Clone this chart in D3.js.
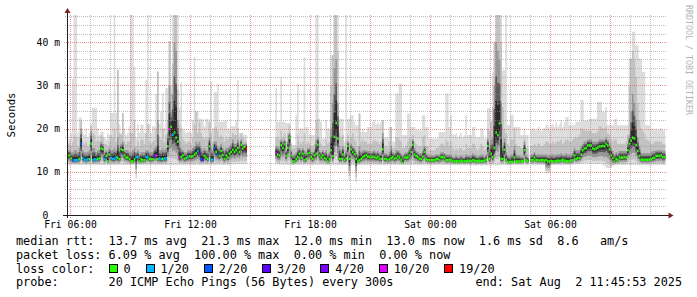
<!DOCTYPE html>
<html>
<head>
<meta charset="utf-8">
<script src="https://cdn.jsdelivr.net/npm/d3@7"></script>
<style>
body { margin: 0; background: #fff; }
svg text { font-family: "DejaVu Sans Mono", monospace; white-space: pre; }
</style>
</head>
<body>
<div id="chart"></div>
<script>
//Time base: 5 minute samples, first one at Fri 05:51
var startTime = new Date(2025, 7, 1, 5, 51, 0);
var stepMinutes = 5;
var spanHours = 30;

//Median rtt per sample (ms), null = no data
var median = [
13.8,13.8,13.1,12.7,12.7,12.7,12.7,13.0,16.5,13.2,12.8,12.7,12.9,12.9,16.5,12.7,12.9,12.8,13.0,13.1,
15.4,15.2,13.0,13.7,12.4,14.0,13.2,13.0,13.0,13.4,13.2,12.9,15.2,15.0,13.8,13.3,13.3,12.9,12.4,12.4,
12.9,13.4,13.4,12.4,12.9,12.7,12.7,13.4,13.4,13.0,12.9,12.9,13.7,13.8,12.9,13.1,12.9,13.0,13.1,13.1,
15.9,19.9,20.4,18.6,19.1,17.9,17.0,13.2,13.4,13.8,13.0,13.2,13.4,13.6,13.5,13.6,14.0,14.3,14.8,14.3,
12.9,12.8,13.7,13.3,13.0,15.9,12.8,12.8,15.5,14.6,14.1,13.7,14.8,13.9,13.0,13.8,13.3,14.2,14.6,15.1,
14.6,15.0,15.5,14.6,16.3,15.4,15.8,15.4,null,null,null,null,null,null,null,null,null,null,null,null,
null,null,null,null,null,14.4,14.0,13.8,16.2,15.5,16.4,13.7,15.5,17.9,13.8,12.4,12.4,13.0,13.4,14.2,
13.3,14.2,12.7,13.0,14.2,14.4,13.4,13.0,13.8,14.2,16.3,13.8,13.3,13.8,13.2,13.0,12.4,13.0,15.0,13.6,
18.1,21.3,17.7,13.0,13.0,14.0,12.7,13.1,16.0,13.0,15.2,14.6,14.1,13.0,12.4,12.7,13.0,13.4,13.6,13.9,
13.5,13.5,13.3,13.5,13.4,13.2,13.5,13.0,13.0,15.2,13.0,13.0,12.7,12.9,13.2,13.4,13.0,13.2,13.7,13.3,
12.8,12.1,13.3,13.3,13.3,13.8,14.6,16.3,14.0,13.7,13.4,13.0,13.0,13.5,14.6,13.0,12.7,12.7,12.7,12.7,
12.7,12.9,13.0,12.7,13.4,13.4,13.3,12.7,12.7,12.8,12.7,12.4,12.4,12.5,12.4,12.4,12.6,12.4,12.4,12.5,
12.6,12.5,12.5,12.7,12.6,12.5,12.5,12.6,12.5,12.5,12.6,12.8,16.0,13.0,14.2,13.4,15.5,19.1,18.5,21.2,
13.0,13.0,15.1,12.8,12.3,12.3,12.3,12.3,13.3,12.4,12.4,12.4,12.4,12.5,15.0,12.7,12.4,null,12.7,12.7,
13.3,12.7,12.7,12.6,12.7,12.7,12.6,12.7,12.4,12.4,12.5,12.4,12.4,12.5,12.6,12.5,12.6,12.8,12.6,12.5,
12.4,12.5,12.6,12.7,13.8,13.0,13.2,13.2,14.0,15.0,15.4,15.5,16.1,16.1,16.1,15.4,15.2,15.4,15.6,15.9,
15.9,16.0,15.9,16.5,16.1,15.2,13.8,13.2,12.4,13.0,12.7,13.3,13.3,13.3,13.4,13.3,15.0,16.5,17.2,17.9,
17.7,16.2,14.8,13.7,12.8,12.8,12.8,12.8,12.8,12.8,12.9,13.2,13.2,13.7,13.7,13.7,13.8,13.4,13.4,null
];

//Slowest ping per sample (top of the light smoke)
var pingMax = [
18.5,17.5,19.0,31.5,46.3,46.3,19.0,22.5,22.5,19.5,18.5,20.0,18.0,19.0,21.0,24.8,24.8,24.8,20.0,18.5,
19.3,19.3,18.0,17.5,19.0,18.5,23.6,23.6,46.3,23.6,33.6,21.0,19.0,23.6,20.0,18.5,19.0,20.5,46.3,46.3,
34.4,18.0,21.0,19.0,20.9,20.9,19.0,31.3,46.3,21.0,19.0,20.5,20.5,28.0,33.2,21.0,24.0,28.2,20.0,29.4,
29.4,40.2,30.0,46.3,46.3,46.3,46.3,24.8,30.6,20.0,19.5,19.0,19.2,19.5,19.0,22.0,36.6,23.9,23.9,22.3,
22.3,22.3,20.5,22.3,22.3,21.6,30.8,20.0,28.5,28.5,30.4,21.6,21.6,21.6,21.9,21.9,20.0,20.0,20.5,20.5,
20.5,22.0,31.2,18.9,18.9,18.9,18.6,18.6,null,null,null,null,null,null,null,null,null,null,null,null,
null,null,null,null,null,29.4,21.6,21.6,32.0,21.6,21.6,21.3,21.3,21.3,16.8,16.2,16.2,23.1,30.4,20.0,
20.0,20.0,36.6,20.4,20.4,18.5,18.5,18.5,18.5,46.3,46.3,22.3,21.6,17.7,17.7,22.0,20.0,20.0,37.0,37.0,
46.3,46.3,46.3,22.3,22.3,22.3,17.0,46.3,22.3,22.3,23.1,23.1,21.6,20.8,20.8,23.5,19.2,20.0,19.2,19.2,
20.4,20.4,20.4,21.5,22.0,21.0,21.5,21.0,21.6,22.0,18.0,18.0,18.0,20.4,20.4,17.0,17.0,28.1,28.1,30.4,
30.4,18.5,18.5,18.5,23.5,23.5,20.4,20.4,20.4,19.6,19.6,19.6,19.6,23.1,23.1,20.4,20.4,17.7,17.7,17.7,
17.7,17.7,17.7,19.2,19.2,19.2,19.2,28.1,28.1,20.4,23.1,18.5,18.5,19.0,18.0,18.5,19.0,18.0,18.5,23.1,
18.5,18.5,18.5,20.4,20.4,18.0,18.0,18.0,20.0,20.0,17.7,17.7,24.7,24.7,21.6,33.0,40.1,46.3,46.3,46.3,
46.3,33.5,33.5,46.3,20.8,20.8,23.1,23.1,20.4,20.4,20.4,20.4,18.5,18.5,20.0,18.5,18.5,null,20.0,20.0,
20.0,19.5,20.0,20.5,19.5,20.0,20.0,20.8,20.8,20.0,20.8,21.0,20.4,21.5,20.4,21.0,22.0,20.4,21.5,22.7,
22.7,20.8,20.8,20.8,20.8,21.6,21.6,21.6,26.6,26.6,21.9,21.9,21.9,22.3,22.3,22.3,22.3,22.3,26.2,26.2,
26.2,23.9,23.9,25.0,20.8,20.8,20.8,20.8,22.3,22.3,20.8,20.8,20.8,20.8,20.8,20.8,20.8,36.2,36.2,42.4,
42.4,39.3,39.3,36.2,36.2,33.1,33.1,20.8,20.8,20.8,20.0,20.0,19.6,20.0,19.6,20.0,20.0,19.6,19.6,null
];

//Upper edge of the mid grey smoke (about the 18th of 20 pings)
var pingHigh = [
16.5,16.5,16.0,17.0,18.5,18.0,16.0,18.0,22.0,17.0,16.5,17.0,16.0,16.5,20.6,19.0,18.5,17.0,17.5,17.0,
18.5,18.0,16.5,16.5,16.0,17.0,18.5,18.0,20.0,17.0,33.6,19.0,18.5,23.6,17.0,16.5,17.0,17.0,19.0,19.0,
22.0,16.0,17.0,16.0,17.5,17.5,16.5,19.0,21.0,17.0,16.5,17.0,17.5,20.0,33.2,18.0,17.5,20.0,17.0,18.5,
22.0,40.2,28.0,35.0,46.3,46.3,29.0,21.0,20.0,17.5,17.0,16.5,17.0,17.0,16.5,18.0,21.0,24.0,19.0,21.6,
19.0,18.0,17.5,18.0,17.5,21.6,19.0,17.0,20.0,20.5,19.5,18.0,18.5,18.0,17.0,18.0,17.5,18.0,18.0,19.0,
18.5,18.5,20.0,17.5,19.0,18.0,17.5,17.0,null,null,null,null,null,null,null,null,null,null,null,null,
null,null,null,null,null,18.0,18.0,17.5,19.5,18.0,19.0,17.0,19.0,20.8,16.5,15.5,15.5,16.0,18.5,17.0,
16.5,17.0,19.0,16.5,17.0,16.5,16.0,16.0,16.5,22.0,22.3,17.5,16.5,16.0,16.0,17.5,16.5,17.0,30.0,37.0,
46.3,46.3,38.0,19.0,18.0,18.5,16.0,17.5,18.5,17.0,18.0,19.0,17.5,17.0,16.0,23.5,17.0,17.5,17.0,17.0,
16.5,16.5,16.5,17.0,17.5,17.0,17.0,16.5,17.0,22.0,16.0,16.0,15.5,17.0,20.4,15.5,15.5,18.0,18.0,17.5,
17.0,15.5,15.5,16.0,17.0,18.0,17.5,18.5,17.0,16.5,16.0,16.0,16.0,18.0,18.5,16.0,16.0,15.0,15.0,15.0,
15.0,15.5,15.5,16.0,16.5,16.5,16.0,17.5,17.0,16.0,17.0,15.5,15.0,15.5,15.0,15.5,15.5,15.0,15.0,16.5,
15.5,15.5,15.5,16.5,16.5,15.5,15.0,15.5,16.5,16.0,15.0,15.5,20.0,19.5,21.6,25.0,40.1,46.3,46.3,46.3,
40.0,25.0,20.0,19.0,16.5,16.0,17.5,17.5,20.0,16.5,16.0,16.0,15.5,15.5,17.7,15.5,15.5,null,16.0,16.0,
16.5,16.0,16.5,16.5,16.0,16.0,16.5,17.0,17.0,16.5,16.5,17.0,16.5,17.0,17.0,17.0,17.5,16.5,17.0,17.5,
17.5,17.0,17.0,17.5,18.0,18.0,18.0,18.5,20.0,20.0,19.5,19.5,19.5,19.5,19.5,19.0,19.0,19.0,19.5,20.5,
20.5,20.0,20.0,20.5,19.0,18.5,17.5,17.0,17.5,17.5,16.5,16.5,16.5,16.5,16.5,17.0,18.5,30.0,36.2,38.0,
36.0,32.0,26.0,22.0,20.0,19.5,19.0,17.5,17.5,17.0,16.5,16.5,17.0,17.0,17.0,17.0,17.0,16.5,16.5,null
];

//Upper edge of the dark smoke (about the 15th of 20 pings)
var pingMid = [
15.0,15.0,14.5,14.5,15.0,15.0,14.5,15.5,20.0,15.0,14.5,14.5,14.5,15.0,19.5,15.5,15.5,14.5,15.0,15.0,
17.0,16.5,14.5,15.0,14.5,15.5,15.0,15.0,15.5,15.0,18.0,15.5,16.5,17.0,15.0,15.0,15.0,14.5,14.5,15.0,
15.5,14.5,15.0,14.0,14.5,14.5,14.5,15.0,15.0,14.5,14.5,14.5,15.5,16.0,22.0,15.0,15.0,15.5,15.0,15.5,
19.0,30.0,24.0,28.0,40.0,38.0,22.0,17.0,15.5,15.0,14.5,14.5,15.0,15.0,15.0,15.5,16.0,17.0,16.5,17.0,
15.5,15.0,15.5,15.0,15.0,18.0,15.5,15.0,17.0,17.0,16.0,15.5,16.5,15.5,15.0,15.5,15.5,16.0,16.5,17.5,
16.5,16.5,17.5,16.0,17.5,16.5,16.5,16.5,null,null,null,null,null,null,null,null,null,null,null,null,
null,null,null,null,null,16.0,16.0,15.5,17.5,17.0,17.5,15.0,17.0,19.0,15.0,14.0,14.0,14.5,15.5,15.5,
15.0,15.5,15.0,14.5,15.5,15.5,14.5,14.5,15.0,17.5,18.0,15.0,14.5,15.0,14.5,15.0,14.0,14.5,20.0,26.0,
34.0,36.0,26.0,16.0,15.0,16.0,14.0,15.0,17.0,14.5,16.5,16.0,15.5,14.5,14.0,16.0,14.5,15.0,15.0,15.0,
14.8,14.8,14.5,14.8,15.0,14.5,14.8,14.3,14.5,19.0,14.3,14.3,14.0,14.5,16.0,14.5,14.3,15.0,15.0,14.8,
14.3,13.8,14.3,14.5,14.5,15.5,16.0,17.5,15.5,14.8,14.5,14.3,14.3,14.8,16.0,14.3,14.0,13.8,13.8,13.8,
13.8,14.0,14.0,14.0,14.5,14.5,14.3,14.0,14.0,14.0,14.0,13.5,13.5,13.8,13.5,13.5,13.8,13.5,13.5,14.0,
13.8,13.8,13.8,14.3,14.0,13.8,13.5,13.8,14.0,14.0,13.5,14.0,17.7,15.5,17.5,18.0,30.0,40.0,38.0,36.0,
26.0,16.0,17.7,14.5,13.8,13.5,14.0,14.0,16.0,14.0,13.8,13.8,13.5,13.5,17.0,13.8,13.5,null,14.0,14.0,
14.5,14.0,14.0,14.0,14.0,14.0,14.0,14.0,13.8,13.8,14.0,14.0,13.8,14.0,14.0,14.0,14.3,14.0,14.0,14.3,
14.0,14.0,14.0,14.3,15.5,15.0,15.0,15.0,16.0,16.5,17.0,17.0,17.5,17.5,17.5,17.0,17.0,17.0,17.0,17.5,
17.5,17.5,17.5,18.0,17.5,16.5,15.5,14.8,14.0,14.5,14.3,14.8,14.8,14.8,14.8,14.8,16.5,18.5,24.0,28.0,
26.0,22.0,18.0,16.0,14.3,14.3,14.3,14.3,14.3,14.3,14.5,14.8,14.8,15.0,15.0,15.0,15.0,14.8,14.8,null
];

//Fastest ping per sample (bottom of the smoke)
var pingMin = [
11.6,11.5,11.6,11.6,11.5,11.6,11.6,11.6,11.5,11.6,11.6,11.5,11.6,11.6,11.5,11.6,11.5,11.6,11.6,11.5,
11.6,11.6,11.5,11.6,11.6,11.5,11.6,11.6,11.5,11.6,11.5,11.6,11.6,11.6,11.5,11.6,11.6,11.5,11.6,11.6,
11.5,8.4,11.6,11.6,11.5,11.6,11.6,11.5,11.6,11.6,11.5,11.6,11.6,11.5,11.6,11.6,11.5,11.6,11.6,11.5,
11.6,11.6,11.5,11.6,11.6,11.6,11.5,11.6,11.6,11.5,11.6,11.6,11.6,11.5,11.6,11.6,11.5,11.6,11.6,11.5,
11.5,11.6,11.6,11.5,11.6,11.6,11.5,11.6,11.6,11.5,11.6,11.6,11.6,11.5,11.6,11.6,11.5,11.6,11.7,11.7,
11.7,11.8,11.7,11.8,11.8,11.7,11.8,11.8,null,null,null,null,null,null,null,null,null,null,null,null,
null,null,null,null,null,11.8,11.7,11.6,11.7,11.6,11.6,11.7,11.6,11.6,11.5,11.5,11.6,11.6,11.5,11.6,
11.6,11.5,11.6,11.6,11.5,11.6,11.6,11.5,11.6,11.6,11.5,11.6,11.6,11.5,11.6,11.6,11.5,11.6,11.6,11.5,
11.6,11.6,11.5,11.6,11.6,11.5,11.6,11.6,11.5,8.0,11.5,11.6,11.6,7.7,11.6,11.5,11.6,11.6,11.5,11.6,
11.5,11.6,11.5,11.6,11.5,11.6,11.5,11.6,11.5,11.6,11.5,11.6,11.5,11.6,11.5,11.6,11.5,11.6,11.5,11.6,
11.5,11.6,11.5,11.6,11.5,11.6,11.5,11.6,11.5,11.6,11.5,11.6,11.5,11.6,11.5,11.6,11.5,11.6,11.5,11.6,
11.5,11.6,11.5,11.6,11.5,11.6,11.5,11.6,11.5,11.6,11.5,11.6,11.5,11.6,11.5,11.6,11.5,11.6,11.5,11.6,
11.5,11.5,11.4,11.5,11.5,11.4,11.5,11.5,11.4,11.5,11.5,11.4,11.5,11.5,11.4,11.5,11.5,11.4,11.5,11.5,
11.5,11.6,11.5,11.6,11.5,11.6,11.5,11.6,11.5,11.6,11.5,11.6,11.5,11.6,11.5,11.6,11.5,null,11.6,11.5,
11.5,11.6,11.5,11.6,11.5,11.6,11.5,9.7,9.7,9.8,11.5,11.6,11.5,11.6,11.5,11.6,11.5,11.6,11.5,11.6,
11.6,11.5,11.6,11.6,11.7,11.7,11.7,11.8,11.8,11.8,11.9,11.9,11.9,11.9,11.9,11.8,11.8,11.8,11.8,11.8,
11.8,11.6,11.4,11.0,10.8,10.8,10.9,11.2,11.5,11.5,11.5,11.6,11.5,11.6,11.5,11.6,11.6,11.6,11.6,11.6,
11.6,11.6,11.5,11.5,11.6,11.5,11.6,11.5,11.6,11.5,11.6,11.5,11.6,11.5,11.6,11.5,11.6,11.5,11.6,null
];

//Samples that lost pings: [sample, loss level index]
var lossEvents = [
[3,2],[4,1],[5,1],[6,1],[8,2],[9,1],[10,1],[11,1],[12,1],[15,1],[16,1],[17,1],[22,1],
[26,1],[27,1],[28,1],[29,1],[41,1],[42,1],[47,1],[48,1],[52,3],[53,5],[55,1],[56,1],
[58,1],[59,1],[61,5],[63,1],[67,5],[72,1],[78,1],[79,4],[80,2],[81,3],[86,1],[87,1],
[88,2],[90,2],[107,6],[125,5]
];

//Loss legend
var lossLabels = ["0", "1/20", "2/20", "3/20", "4/20", "10/20", "19/20"];
var lossColors = ["#26ff00", "#00b8ff", "#0059ff", "#5e00ff", "#7e00ff", "#dd00ff", "#ff0000"];

//Axis labels
var yMax = 46.3;
var yTickValues = [0, 10, 20, 30, 40];
var yTickLabels = ["0", "10 m", "20 m", "30 m", "40 m"];

//Statistics below the graph
var legendLines = [
	"median rtt:  13.7 ms avg  21.3 ms max  12.0 ms min  13.0 ms now  1.6 ms sd  8.6   am/s",
	"packet loss: 6.09 % avg  100.00 % max  0.00 % min  0.00 % now"
];
var probeLine = "probe:       20 ICMP Echo Pings (56 Bytes) every 300s";
var endLine = "end: Sat Aug  2 11:45:53 2025";

//Canvas
var W = 697, H = 297;
var plot = {left: 67, right: 667, top: 15, bottom: 215};
var legendFont = 11.83, axisFont = 9.72, charW = legendFont * 0.602;

var svg = d3.select("#chart").append("svg")
	.attr("width", W).attr("height", H)
	.style("display", "block");

svg.append("rect").attr("width", W).attr("height", H).attr("fill", "#ffffff");

var endTime = d3.timeHour.offset(startTime, spanHours);
var x = d3.scaleTime().domain([startTime, endTime]).range([plot.left, plot.right]);
var y = d3.scaleLinear().domain([0, yMax]).range([plot.bottom, plot.top]);

var stepMs = stepMinutes * 60 * 1000;
function xAt(i) { return x(new Date(startTime.getTime() + i * stepMs)); }

var lossLevel = median.map(function() { return 0; });
lossEvents.forEach(function(e) { lossLevel[e[0]] = e[1]; });

svg.append("defs").append("clipPath").attr("id", "plot-clip")
	.append("rect")
	.attr("x", plot.left).attr("y", plot.top)
	.attr("width", plot.right - plot.left).attr("height", plot.bottom - plot.top);

//Smoke: stacked bands between ping quantiles, darker towards the median
function bandPoints(lower, upper) {
	var pts = [];
	median.forEach(function(m, i) {
		if (m == null) { pts.push(null); return; }
		var a = lower(i), b = upper(i);
		pts.push({t: i, y0: a, y1: b}, {t: i + 1, y0: a, y1: b});
	});
	return pts;
}

var smokeArea = d3.area()
	.defined(function(d) { return d != null; })
	.x(function(d) { return xAt(d.t); })
	.y0(function(d) { return y(d.y0); })
	.y1(function(d) { return y(d.y1); });

function below(i, f) { return pingMin[i] + (median[i] - pingMin[i]) * f; }
function above(i, f) { return median[i] + (pingMid[i] - median[i]) * f; }

var layers = [
	{color: "#dddddd", lo: function(i) { return pingMin[i]; }, hi: function(i) { return pingMax[i]; }},
	{color: "#c2c2c2", lo: function(i) { return below(i, 0.2); }, hi: function(i) { return pingHigh[i]; }},
	{color: "#979797", lo: function(i) { return below(i, 0.45); }, hi: function(i) { return pingMid[i]; }},
	{color: "#5a5a5a", lo: function(i) { return below(i, 0.68); }, hi: function(i) { return above(i, 0.62); }},
	{color: "#2a2a2a", lo: function(i) { return below(i, 0.82); }, hi: function(i) { return above(i, 0.35); }}
];

var smoke = svg.append("g").attr("class", "smoke").attr("clip-path", "url(#plot-clip)");
layers.forEach(function(l) {
	smoke.append("path")
		.datum(bandPoints(l.lo, l.hi))
		.attr("fill", l.color)
		.attr("d", smokeArea);
});

//Median, coloured by packet loss
smoke.append("g").selectAll("rect")
	.data(median.map(function(m, i) { return {i: i, m: m}; }).filter(function(d) { return d.m != null; }))
	.enter().append("rect")
	.attr("x", function(d) { return xAt(d.i); })
	.attr("width", function(d) { return xAt(d.i + 1) - xAt(d.i); })
	.attr("y", function(d) { return y(d.m) - 1.25; })
	.attr("height", 2.5)
	.attr("fill", function(d) { return lossColors[lossLevel[d.i]]; });

//Grid, drawn on top like rrdtool does
var grid = svg.append("g").attr("class", "grid").attr("stroke-width", 1);
var minorCol = "rgba(143,143,143,0.6)", majorCol = "rgba(222,79,79,0.6)";

var yMinor = d3.range(2, yMax, 2).filter(function(v) { return v % 10 != 0; });
var yMajor = d3.range(10, yMax, 10);
var xMinor = d3.timeHour.every(1).range(startTime, endTime).filter(function(t) { return t.getHours() % 3 != 0; });
var xMajor = d3.timeHour.every(3).range(startTime, endTime);

function py(v) { return Math.round(y(v)) + 0.5; }
function px(t) { return Math.round(x(t)) + 0.5; }

grid.selectAll(".hmin").data(yMinor).enter().append("line")
	.attr("x1", plot.left - 2).attr("x2", plot.right)
	.attr("y1", py).attr("y2", py)
	.attr("stroke", minorCol).attr("stroke-dasharray", "1,1");
grid.selectAll(".vmin").data(xMinor).enter().append("line")
	.attr("x1", px).attr("x2", px)
	.attr("y1", plot.top).attr("y2", plot.bottom + 2)
	.attr("stroke", minorCol).attr("stroke-dasharray", "1,1");
grid.selectAll(".hmaj").data(yMajor).enter().append("line")
	.attr("x1", plot.left - 3).attr("x2", plot.right)
	.attr("y1", py).attr("y2", py)
	.attr("stroke", majorCol).attr("stroke-dasharray", "1,1");
grid.selectAll(".vmaj").data(xMajor).enter().append("line")
	.attr("x1", px).attr("x2", px)
	.attr("y1", plot.top).attr("y2", plot.bottom + 3)
	.attr("stroke", majorCol).attr("stroke-dasharray", "1,1");

//Axes with arrows
var axisCol = "#1f1f1f", arrowCol = "#801f1f";
svg.append("line")
	.attr("x1", plot.left - 4).attr("x2", plot.right + 3)
	.attr("y1", plot.bottom + 0.5).attr("y2", plot.bottom + 0.5)
	.attr("stroke", axisCol);
svg.append("line")
	.attr("x1", plot.left + 0.5).attr("x2", plot.left + 0.5)
	.attr("y1", plot.bottom + 3).attr("y2", plot.top - 3)
	.attr("stroke", axisCol);
svg.append("path")
	.attr("d", "M" + (plot.right + 1.5) + "," + (plot.bottom - 2.5) + "L" + (plot.right + 6.5) + "," + (plot.bottom + 0.5) +
		"L" + (plot.right + 1.5) + "," + (plot.bottom + 3.5) + "Z")
	.attr("fill", arrowCol);
svg.append("path")
	.attr("d", "M" + (plot.left - 2.5) + "," + (plot.top - 2) + "L" + (plot.left + 0.5) + "," + (plot.top - 7) +
		"L" + (plot.left + 3.5) + "," + (plot.top - 2) + "Z")
	.attr("fill", arrowCol);

//Tick labels
var labels = svg.append("g").attr("font-size", axisFont).attr("fill", "#000");
labels.selectAll(".yl").data(yTickValues).enter().append("text")
	.attr("x", plot.left - 30.4)
	.attr("y", function(v) { return y(v) + 3.6; })
	.text(function(v, i) { return yTickLabels[i].padStart(2, " "); });

var fmt = d3.timeFormat("%a %H:%M");
labels.selectAll(".xl").data(d3.timeHour.every(6).range(startTime, endTime)).enter().append("text")
	.attr("x", function(t) { return x(t) + 0.5; })
	.attr("y", 228)
	.attr("text-anchor", "middle")
	.text(fmt);

svg.append("text")
	.attr("transform", "translate(14.6," + ((plot.top + plot.bottom) / 2) + ") rotate(-90)")
	.attr("text-anchor", "middle")
	.attr("font-size", 10.7)
	.text("Seconds");

svg.append("text")
	.attr("transform", "translate(685.5,5) rotate(90)")
	.attr("font-size", 8.3)
	.attr("fill", "#b4b4b4")
	.text("RRDTOOL / TOBI OETIKER");

//Legend block
var legend = svg.append("g").attr("font-size", legendFont).attr("fill", "#000");
var lx = 16;
legend.selectAll(".ln").data(legendLines).enter().append("text")
	.attr("x", lx).attr("y", function(d, i) { return 245 + i * 13.5; })
	.text(function(d) { return d; });

legend.append("text").attr("x", lx).attr("y", 272.5).text("loss color:");
var bx = lx + 13 * charW;
lossLabels.forEach(function(lab, i) {
	legend.append("rect")
		.attr("x", Math.round(bx) + 0.5).attr("y", 264.5)
		.attr("width", 8).attr("height", 8)
		.attr("fill", lossColors[i]).attr("stroke", "#000");
	legend.append("text").attr("x", bx + 15).attr("y", 272.5).text(lab);
	bx += 15 + lab.length * charW + 14.8;
});

legend.append("text").attr("x", lx).attr("y", 286).text(probeLine);
legend.append("text").attr("x", 682).attr("y", 286).attr("text-anchor", "end").text(endLine);
</script>
</body>
</html>
